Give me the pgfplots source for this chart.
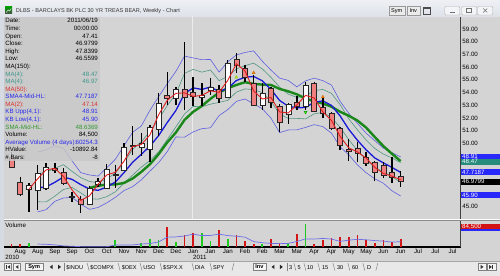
\documentclass[border=0pt]{standalone}
\usepackage{pgfplots}
\pgfplotsset{compat=1.18}
\usepackage{pgfplotstable}
\usepackage{fontspec}
\setmainfont{Liberation Sans}

\definecolor{bg}{RGB}{212,212,212}
\definecolor{panelbg}{RGB}{200,200,200}
\definecolor{frame}{RGB}{214,218,226}
\definecolor{titletop}{RGB}{238,240,244}
\definecolor{titlebot}{RGB}{222,226,233}
\definecolor{toolbar}{RGB}{232,232,232}
\definecolor{candred}{RGB}{240,128,128}
\definecolor{mablue}{RGB}{25,25,215}
\definecolor{bandblue}{RGB}{95,95,225}
\definecolor{tealc}{RGB}{80,150,130}
\definecolor{greenc}{RGB}{25,135,25}
\definecolor{redc}{RGB}{225,30,30}
\definecolor{txtblue}{RGB}{40,40,235}
\definecolor{txtteal}{RGB}{60,150,140}
\definecolor{txtred}{RGB}{220,50,50}
\definecolor{txtgreen}{RGB}{50,150,50}
\definecolor{volred}{RGB}{210,20,20}
\definecolor{volgreen}{RGB}{30,200,30}
\definecolor{boxblue}{RGB}{40,40,250}
\definecolor{boxteal}{RGB}{40,140,125}
\definecolor{avgblue}{RGB}{110,110,235}

\newcommand\fs{\fontsize{6.2}{7}\selectfont}
\newcommand\ft{\fontsize{5.6}{6.5}\selectfont}
\tikzset{px/.style={x=1bp,y=-1bp}}

\pgfplotstableread{
i o h l c
0 48.90 49.30 48.10 48.14
1 46.96 47.36 45.86 46.02
2 46.41 46.88 44.60 46.73
3 46.33 48.30 44.76 47.67
4 46.49 48.46 46.33 48.14
5 48.06 48.46 47.67 47.91
6 47.75 48.06 46.73 46.88
7 45.86 46.18 45.39 45.78
8 45.63 45.86 44.52 45.23
9 45.23 46.65 45.15 46.49
10 46.80 47.28 46.57 47.04
11 46.49 48.38 46.49 47.98
12 47.60 48.30 46.50 47.45
13 47.91 50.03 47.91 49.72
14 49.84 51.37 49.09 49.76
15 49.72 50.82 49.01 50.03
16 49.56 51.45 48.54 51.29
17 51.13 53.96 50.58 53.18
18 53.81 55.62 53.02 53.57
19 53.57 54.44 53.02 54.28
20 54.28 57.98 52.63 53.65
21 54.04 55.22 52.94 53.73
22 53.65 54.75 52.94 53.81
23 54.20 55.14 53.81 54.44
24 54.28 54.59 53.18 53.57
25 53.65 56.56 53.57 56.32
26 56.64 57.11 55.54 56.17
27 55.93 56.17 54.83 55.22
28 54.75 55.38 52.94 53.02
29 53.02 54.75 52.63 53.96
30 54.36 54.44 52.78 53.26
31 52.94 53.10 50.90 51.68
32 52.31 53.18 51.53 53.10
33 53.26 53.73 52.63 52.94
34 52.94 54.83 52.63 54.59
35 54.75 54.83 52.47 52.55
36 52.86 53.57 52.00 52.39
37 52.39 52.47 51.05 51.21
38 51.21 51.29 49.48 49.87
39 49.56 50.35 48.61 49.40
40 49.64 50.11 48.54 49.24
41 48.93 49.32 48.22 48.46
42 48.54 48.62 47.04 47.75
43 48.30 48.54 47.28 47.51
44 47.75 48.93 46.88 47.30
45 47.41 47.84 46.56 46.98
}\candles

\pgfplotstableread{
i kbu t4h m4 t4l kbl ma2 g8
2 nan nan nan nan nan 46.38 nan
3 49.30 47.60 46.50 45.40 44.60 47.20 nan
4 49.50 47.75 46.57 45.39 44.78 47.91 nan
5 49.80 48.03 46.93 45.84 45.43 48.03 nan
6 49.60 48.32 47.35 46.37 45.70 47.40 nan
7 48.61 47.79 47.16 46.53 45.74 46.33 nan
8 47.69 47.30 46.75 46.10 45.21 45.51 nan
9 47.51 47.00 46.40 45.65 44.80 45.86 46.50
10 47.42 46.90 46.30 45.60 44.95 46.77 46.65
11 48.07 47.20 46.55 45.80 45.31 47.51 46.76
12 48.74 47.65 46.95 46.18 45.75 47.72 46.76
13 49.81 48.50 47.69 46.87 46.28 48.59 46.88
14 50.87 49.52 48.51 47.50 46.59 49.74 47.23
15 51.36 50.13 49.13 48.13 47.12 49.90 47.75
16 52.60 50.92 49.78 48.64 47.81 50.66 48.35
17 53.66 51.90 50.60 49.31 48.47 52.24 49.14
18 54.69 52.96 51.63 50.29 49.34 53.38 50.07
19 55.66 53.87 52.58 51.29 50.50 53.93 50.85
20 56.86 55.50 53.91 52.31 50.48 53.97 51.84
21 56.72 55.82 54.36 52.90 50.90 53.69 52.48
22 56.58 55.60 54.24 52.88 51.15 53.77 52.93
23 56.60 55.77 54.43 53.08 51.22 54.13 53.50
24 55.60 54.93 54.07 53.22 52.18 54.01 53.99
25 56.42 55.26 54.32 53.38 52.65 54.95 54.34
26 56.95 55.85 54.94 54.03 53.30 56.25 54.59
27 57.15 56.11 55.20 54.28 53.49 55.70 54.81
28 57.27 56.31 55.26 54.22 53.10 54.12 54.67
29 56.46 55.85 54.92 53.99 52.72 53.49 54.62
30 55.76 55.19 54.24 53.30 51.98 53.61 54.59
31 55.13 54.42 53.37 52.31 50.84 52.47 54.28
32 54.95 53.87 52.92 51.96 51.05 52.39 54.09
33 54.44 53.61 52.79 51.96 51.06 53.02 53.85
34 54.91 53.71 52.82 51.92 51.25 53.77 53.53
35 55.13 54.14 53.23 52.32 51.47 53.57 53.30
36 54.93 54.24 53.34 52.43 51.31 52.47 53.13
37 54.58 53.93 52.98 52.04 50.80 51.80 52.88
38 53.30 53.04 52.15 51.25 49.72 50.54 52.48
39 52.36 51.92 51.10 50.29 49.09 49.64 52.17
40 51.57 51.06 50.24 49.42 48.30 49.32 51.79
41 50.80 50.27 49.49 48.71 47.69 48.85 51.24
42 50.21 49.60 48.85 48.10 47.21 48.11 50.50
43 49.62 49.15 48.46 47.77 46.86 47.63 49.78
44 49.26 48.85 48.10 47.36 46.26 47.41 49.17
45 48.93 48.48 47.71 46.94 45.85 47.14 48.60
}\ind

\pgfplotstableread{
i v
0 29
1 37
18 225
20 133
21 159
24 189
26 133
27 67
28 29
30 95
31 48
33 140
35 37
36 84
37 103
38 111
39 114
40 133
41 73
42 48
43 84
44 59
45 84.5
}\volr

\pgfplotstableread{
i v
2 48
12 73
15 48
16 95
17 73
19 59
22 159
23 67
25 95
29 29
32 48
34 251
}\volg

\pgfplotstableread{
i a
3 33.5
4 30.8
5 24
6 13
7 8.8
8 4.8
9 3
10 3
11 4.3
12 22
13 22.5
14 24
15 34
16 39.5
17 56.5
18 110
19 113
20 122.5
21 144
22 127.5
23 129.5
24 143.5
25 127.5
26 121
27 110
28 61
29 48
30 41
31 38
32 41
33 62
34 91
35 89
36 96
37 89
38 63
39 77
40 86
41 81
42 72
43 66
44 55
45 60.3
}\vola

\newcommand\inforow[4]{%
  \node[anchor=base west,inner sep=0,text=#4,font=\fs] at (5,#1) {#2};%
  \node[anchor=base east,inner sep=0,text=#4,font=\fs] at (98,#1) {#3};}
\newcommand\pricebox[4]{%
  \fill[#3] (461.5,#1) rectangle (500,#2);%
  \node[anchor=base west,inner sep=0,text=white,font=\fs] at (462.3,#2-0.9) {#4};}
\newcommand\btn[3]{%
  \draw[black!50,fill=black!4,line width=0.4bp] (#1,263.3) rectangle (#2,270.7);%
  \node[font=\ft,inner sep=0] at ({(#1+#2)/2},267.1) {#3};}

\begin{document}
\begin{tikzpicture}
\begin{scope}[px]
\path[use as bounding box] (0,0) rectangle (500,276);
\fill[frame] (0,0) rectangle (500,276);
\shade[top color=titletop,bottom color=titlebot] (0,0) rectangle (500,16.6);
\fill[bg] (4,17) rectangle (500,261.5);
\end{scope}

% ---------------- price panel
\begin{axis}[
  at={(4bp,-17bp)}, anchor=north west,
  scale only axis, width=457bp, height=202bp,
  xmin=-0.855, xmax=51.95, ymin=44.06, ymax=59.94,
  axis x line=none, axis y line*=right,
  y axis line style={-, draw=black!75, line width=0.7bp},
  ytick={45,50,51,...,59},
  major tick length=0pt, ytick style={draw=none},
  yticklabel style={font=\fs, anchor=west, inner sep=0pt, xshift=1.5bp},
  /pgf/number format/fixed, /pgf/number format/fixed zerofill,
  /pgf/number format/precision=2, /pgf/number format/assume math mode=true,
  axis background/.style={fill=bg},
]
\addplot[white!55!bg, line width=0.6bp] coordinates {(20.85,44) (20.85,60)};
\addplot[bandblue, line width=0.6bp] table[x=i,y=kbu] {\ind};
\addplot[bandblue, line width=0.6bp] table[x=i,y=kbl] {\ind};
\addplot[tealc, line width=0.6bp] table[x=i,y=t4h] {\ind};
\addplot[tealc, line width=0.6bp] table[x=i,y=t4l] {\ind};
\addplot[greenc, line width=2.4bp] table[x=i,y=g8] {\ind};
\addplot[mablue, line width=1.3bp] table[x=i,y=m4] {\ind};
\pgfplotsinvokeforeach{0,...,45}{
  \pgfplotstablegetelem{#1}{o}\of\candles \let\cO\pgfplotsretval
  \pgfplotstablegetelem{#1}{h}\of\candles \let\cH\pgfplotsretval
  \pgfplotstablegetelem{#1}{l}\of\candles \let\cL\pgfplotsretval
  \pgfplotstablegetelem{#1}{c}\of\candles \let\cC\pgfplotsretval
  \pgfmathsetmacro\xa{#1-0.29}
  \pgfmathsetmacro\xb{#1+0.29}
  \ifdim\cC pt<\cO pt \def\bodycol{candred}\else\def\bodycol{white}\fi
  \edef\doplot{%
    \noexpand\addplot[black, line width=1.4bp] coordinates {(#1,\cH) (#1,\cL)};
    \noexpand\addplot[draw=black!85, line width=0.5bp, fill=\bodycol] coordinates {(\xa,\cO) (\xb,\cO) (\xb,\cC) (\xa,\cC)} -- cycle;
  }\doplot
}
\addplot[redc, line width=0.9bp] table[x=i,y=ma2] {\ind};
\addplot[only marks, mark=triangle*, mark size=1.7bp, draw=orange!80!black, fill=orange] coordinates {(28,55.55) (36,53.65)};
\addplot[only marks, mark=triangle*, mark size=1.7bp, draw=yellow!50!green, fill=yellow!80!green] coordinates {(26,55.2)};
\addplot[only marks, mark=triangle*, mark options={rotate=180}, mark size=1.7bp, draw=green!60!black, fill=green!70!yellow] coordinates {(34,52.45)};
\end{axis}

\begin{scope}[px]
% info panel (semi-transparent)
\fill[panelbg, fill opacity=0.82] (4,17) rectangle (99.5,161);
\inforow{22.9}{Date:}{2011/06/19}{black}
\inforow{30.5}{Time:}{00:00:00}{black}
\inforow{38.1}{Open:}{47.41}{black}
\inforow{45.7}{Close:}{46.9799}{black}
\inforow{53.3}{High:}{47.8399}{black}
\inforow{60.9}{Low:}{46.5599}{black}
\inforow{68.5}{MA(150):}{}{black}
\inforow{76.1}{MA(4):}{48.47}{txtteal}
\inforow{83.7}{MA(4):}{46.97}{txtteal}
\inforow{91.3}{MA(50):}{}{txtred}
\inforow{98.9}{SMA4-Mid-HL:}{47.7187}{txtblue}
\inforow{106.5}{MA(2):}{47.14}{txtred}
\inforow{114.1}{KB Upp(4,1):}{48.91}{txtblue}
\inforow{121.7}{KB Low(4,1):}{45.90}{txtblue}
\inforow{129.3}{SMA-Mid-HL:}{48.6369}{txtgreen}
\inforow{136.9}{Volume:}{84,500}{black}
\inforow{144.5}{Average Volume (4 days):}{60254.3}{txtblue}
\inforow{152.1}{HValue:}{-10892.84}{black}
\inforow{159.7}{\# Bars:}{-8}{black}
% price boxes
\pricebox{154}{159.4}{boxblue}{48.91}
\pricebox{159.4}{165}{boxteal}{48.47}
\pricebox{169}{175.6}{boxblue}{47.7187}
\pricebox{179}{185}{black}{46.9799}
\pricebox{192.6}{198.3}{boxblue}{45.90}
% separator
\fill[bg] (4,219) rectangle (500,221);
\draw[white,line width=0.6bp] (4,219.6) -- (500,219.6);
\draw[black!45,line width=0.6bp] (4,220.8) -- (500,220.8);
\end{scope}

% ---------------- volume panel
\begin{axis}[
  at={(4bp,-221bp)}, anchor=north west,
  scale only axis, width=457bp, height=26.3bp,
  xmin=-0.855, xmax=51.95, ymin=0, ymax=292,
  axis x line*=bottom, axis y line*=right,
  x axis line style={-, draw=black, line width=1.8bp},
  y axis line style={-, draw=black!75, line width=0.7bp},
  ytick=\empty,
  xtick={1,3,...,51},
  xticklabels={Aug,Aug,Sep,Sep,Oct,Oct,Nov,Nov,Dec,Dec,Jan,Jan,Jan,Feb,Feb,Mar,Mar,Apr,Apr,May,May,Jun,Jun,Jul,Jul,Jul},
  major tick length=0pt, xtick style={draw=none},
  xticklabel style={font=\fs, anchor=north, inner sep=0pt, yshift=-2.2bp},
  axis background/.style={fill=bg},
]
\addplot[ycomb, volred, line width=1.7bp] table[x=i,y=v] {\volr};
\addplot[ycomb, volgreen, line width=1.7bp] table[x=i,y=v] {\volg};
\addplot[avgblue, line width=0.7bp] table[x=i,y=a] {\vola};
\end{axis}

\begin{scope}[px]
\node[anchor=base west,inner sep=0,font=\fs] at (5,227.4) {Volume};
\pricebox{223.8}{229.6}{volred}{84,500}
\fill[boxblue] (461.5,229.6) rectangle (500,231.2);
\node[anchor=base west,inner sep=0,font=\fs] at (5,260.2) {2010};
\node[anchor=base west,inner sep=0,font=\fs] at (193,260.2) {2011};
% title bar
\shade[top color=green!60!black, bottom color=black!70] (5,7) rectangle (12,14);
\draw[white,line width=0.4bp] (6,12.5) -- (8,10) -- (9.5,11) -- (11,8.5);
\node[anchor=base west,inner sep=0,font=\ft,text=black!80] at (15.5,12.6) {DLBS - BARCLAYS BK PLC 30 YR TREAS BEAR, Weekly - Chart};
\draw[black!40,fill=black!8,line width=0.4bp] (389,6.5) rectangle (405,15);
\node[font=\ft,inner sep=0] at (397,10.9) {Sym};
\draw[black!40,fill=black!8,line width=0.4bp] (407,6.5) rectangle (420,15);
\node[font=\ft,inner sep=0] at (413.5,10.9) {Inv};
\draw[black!70,line width=0.6bp] (424,7.5) rectangle (431,14);
\fill[black!70] (424,7.5) rectangle (431,9.3);
\foreach \a/\b in {445/460,462/477,478/493}{
  \draw[black!30,fill=white!70!frame,line width=0.4bp,rounded corners=1bp] (\a,6.5) rectangle (\b,15);}
\draw[black!55,line width=0.6bp] (450,12) -- (455,12);
\draw[black!55,line width=0.5bp] (467,8.5) rectangle (472,12.5);
\draw[black!55,line width=0.5bp] (483.5,8.5) -- (487.5,12.5) (483.5,12.5) -- (487.5,8.5);
% bottom toolbar
\fill[toolbar] (0,261.5) rectangle (500,276);
\draw[black!35,line width=0.4bp] (0,261.6) -- (500,261.6);
\btn{4.5}{11}{}
\fill[black!80] (6.2,265.2) rectangle (6.9,269.2);
\fill[black!80] (10,265.2) -- (10,269.2) -- (7.3,267.2) -- cycle;
\btn{13.5}{20}{}
\fill[black!80] (18.3,265.2) -- (18.3,269.2) -- (15.4,267.2) -- cycle;
\btn{25}{43}{\textbf{Sym}}
\fill[black!85] (52.5,265) -- (52.5,269.4) -- (49.6,267.2) -- cycle;
\fill[black!85] (58,265) -- (58,269.4) -- (60.9,267.2) -- cycle;
\fill[black!8] (65,263.3) rectangle (87,270.8);
\draw[black!50,line width=0.4bp] (64.5,263.3) -- (64.5,270.8);
\foreach \x in {87,118,140,160,192,210}{\draw[black!55,line width=0.4bp] (\x,263.3) -- (\x+2,270.8);}
\draw[black!55,line width=0.4bp] (232,270.8) -- (234,263.3);
\node[anchor=base west,inner sep=0,font=\ft] at (66,269.3) {\$INDU};
\node[anchor=base west,inner sep=0,font=\ft] at (90,269.3) {\$COMPX};
\node[anchor=base west,inner sep=0,font=\ft] at (121.5,269.3) {\$OEX};
\node[anchor=base west,inner sep=0,font=\ft] at (143,269.3) {USO};
\node[anchor=base west,inner sep=0,font=\ft] at (163,269.3) {\$SPX.X};
\node[anchor=base west,inner sep=0,font=\ft] at (195,269.3) {DIA};
\node[anchor=base west,inner sep=0,font=\ft] at (213,269.3) {SPY};
\btn{253}{266}{\textbf{Inv}}
\fill[black!85] (274.5,265) -- (274.5,269.4) -- (271.6,267.2) -- cycle;
\fill[black!85] (280,265) -- (280,269.4) -- (282.9,267.2) -- cycle;
\draw[black!50,line width=0.4bp] (287.5,263.3) -- (287.5,270.8);
\foreach \x in {294,304,318,333,348,363}{\draw[black!55,line width=0.4bp] (\x,263.3) -- (\x+2,270.8);}
\draw[black!55,line width=0.4bp] (376,270.8) -- (378,263.3);
\node[anchor=base west,inner sep=0,font=\ft] at (289,269.3) {3};
\node[anchor=base west,inner sep=0,font=\ft] at (297.5,269.3) {5};
\node[anchor=base west,inner sep=0,font=\ft] at (307,269.3) {10};
\node[anchor=base west,inner sep=0,font=\ft] at (322,269.3) {15};
\node[anchor=base west,inner sep=0,font=\ft] at (337,269.3) {30};
\node[anchor=base west,inner sep=0,font=\ft] at (352,269.3) {60};
\node[anchor=base west,inner sep=0,font=\ft] at (367,269.3) {D};
\btn{478}{486}{}
\fill[black!80] (481,265.2) -- (481,269.2) -- (483.8,267.2) -- cycle;
\btn{487.5}{496}{}
\fill[black!80] (489.3,265.2) -- (489.3,269.2) -- (492.2,267.2) -- cycle;
\fill[black!80] (492.6,265.2) rectangle (493.3,269.2);
\end{scope}
\end{tikzpicture}
\end{document}
